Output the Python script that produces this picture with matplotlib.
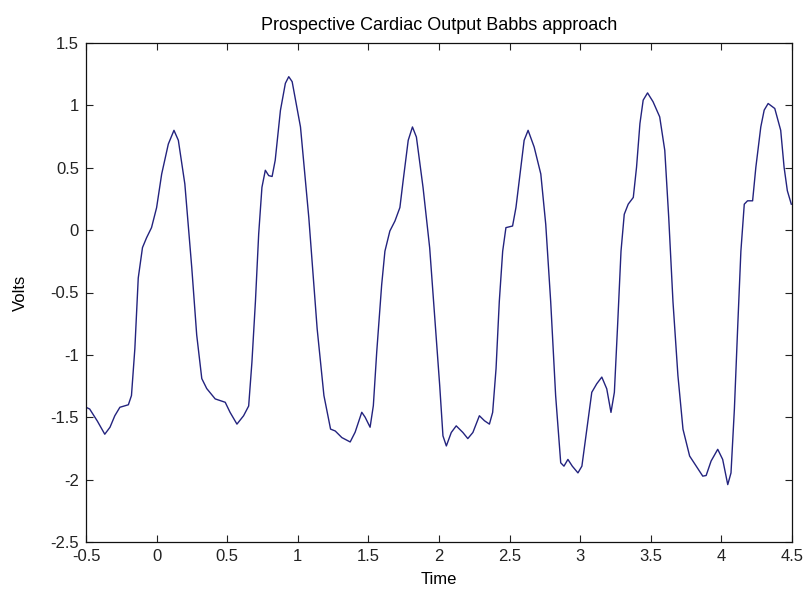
import numpy as np
import matplotlib
matplotlib.use('Agg')
import matplotlib.pyplot as plt

# Signal
time = [-0.5, -0.474, -0.42, -0.367, -0.33, -0.296, -0.26, -0.20, -0.178, -0.154,
        -0.13, -0.10, -0.071, -0.036, 0.0, 0.036, 0.083, 0.123, 0.154, 0.20,
        0.249, 0.284, 0.32, 0.355, 0.415, 0.486, 0.52, 0.569, 0.616, 0.652,
        0.675, 0.70, 0.723, 0.746, 0.77, 0.794, 0.818, 0.84, 0.877, 0.912,
        0.936, 0.96, 1.019, 1.078, 1.137, 1.185, 1.232, 1.265, 1.312, 1.371,
        1.406, 1.453, 1.477, 1.512, 1.535, 1.559, 1.594, 1.617, 1.652, 1.688,
        1.723, 1.746, 1.782, 1.812, 1.84, 1.887, 1.934, 1.97, 2.005, 2.028,
        2.052, 2.087, 2.122, 2.169, 2.204, 2.24, 2.286, 2.322, 2.357, 2.38,
        2.404, 2.427, 2.451, 2.474, 2.521, 2.545, 2.58, 2.603, 2.631, 2.674,
        2.721, 2.756, 2.791, 2.826, 2.862, 2.885, 2.913, 2.944, 2.984, 3.012,
        3.047, 3.082, 3.117, 3.153, 3.188, 3.218, 3.242, 3.265, 3.289, 3.312,
        3.34, 3.376, 3.399, 3.423, 3.446, 3.477, 3.516, 3.563, 3.599, 3.627,
        3.657, 3.692, 3.728, 3.775, 3.822, 3.868, 3.892, 3.927, 3.974, 4.009,
        4.045, 4.068, 4.092, 4.115, 4.138, 4.162, 4.185, 4.221, 4.244, 4.279,
        4.303, 4.331, 4.378, 4.42, 4.444, 4.467, 4.495]
volts = [-1.42, -1.434, -1.53, -1.636, -1.58, -1.488, -1.42, -1.40, -1.326, -0.95,
         -0.384, -0.14, -0.061, 0.02, 0.18, 0.45, 0.69, 0.80, 0.72, 0.37,
         -0.30, -0.84, -1.19, -1.27, -1.353, -1.38, -1.46, -1.555, -1.488, -1.41,
         -1.06, -0.57, -0.03, 0.343, 0.48, 0.437, 0.43, 0.56, 0.96, 1.177,
         1.23, 1.19, 0.827, 0.10, -0.79, -1.326, -1.595, -1.61, -1.663, -1.698,
         -1.62, -1.46, -1.50, -1.58, -1.407, -0.976, -0.438, -0.169, -0.007, 0.073,
         0.181, 0.396, 0.72, 0.827, 0.746, 0.342, -0.142, -0.707, -1.246, -1.649,
         -1.73, -1.622, -1.569, -1.622, -1.671, -1.622, -1.488, -1.528, -1.555, -1.461,
         -1.11, -0.573, -0.169, 0.02, 0.033, 0.181, 0.504, 0.72, 0.80, 0.666,
         0.45, 0.046, -0.573, -1.326, -1.865, -1.892, -1.838, -1.892, -1.946, -1.892,
         -1.596, -1.30, -1.232, -1.178, -1.272, -1.461, -1.30, -0.761, -0.169, 0.127,
         0.208, 0.262, 0.504, 0.854, 1.042, 1.10, 1.029, 0.908, 0.639, 0.10,
         -0.573, -1.165, -1.596, -1.811, -1.892, -1.972, -1.967, -1.851, -1.757, -1.838,
         -2.04, -1.946, -1.434, -0.788, -0.169, 0.208, 0.235, 0.235, 0.504, 0.827,
         0.962, 1.015, 0.975, 0.80, 0.504, 0.316, 0.208]

x_ticks = [-0.5, 0, 0.5, 1, 1.5, 2, 2.5, 3, 3.5, 4, 4.5]
x_labels = ['-0.5', '0', '0.5', '1', '1.5', '2', '2.5', '3', '3.5', '4', '4.5']
y_ticks = [-2.5, -2, -1.5, -1, -0.5, 0, 0.5, 1, 1.5]
y_labels = ['-2.5', '-2', '-1.5', '-1', '-0.5', '0', '0.5', '1', '1.5']

plt.rcParams['font.family'] = ['Liberation Sans', 'DejaVu Sans']

fig = plt.figure(figsize=(8.07, 5.90), dpi=100)
ax = fig.add_axes([86 / 807, 48 / 590, 706 / 807, 499 / 590])

ax.plot(time, volts, color='#23237e', linewidth=1.0)

ax.set_xlim(-0.5, 4.5)
ax.set_ylim(-2.5, 1.5)
ax.set_xticks(x_ticks)
ax.set_xticklabels(x_labels)
ax.set_yticks(y_ticks)
ax.set_yticklabels(y_labels)
ax.tick_params(direction='in', length=5, width=0.8, top=True, right=True,
               labelsize=12, pad=5, colors='#222222')
for s in ax.spines.values():
    s.set_linewidth(0.9)
    s.set_color('#111111')

ax.set_title('Prospective Cardiac Output Babbs approach', fontsize=13, pad=9)
ax.set_xlabel('Time', fontsize=12, labelpad=6)
ax.set_ylabel('Volts', fontsize=12, labelpad=16)

fig.savefig('out.png', dpi=100)
